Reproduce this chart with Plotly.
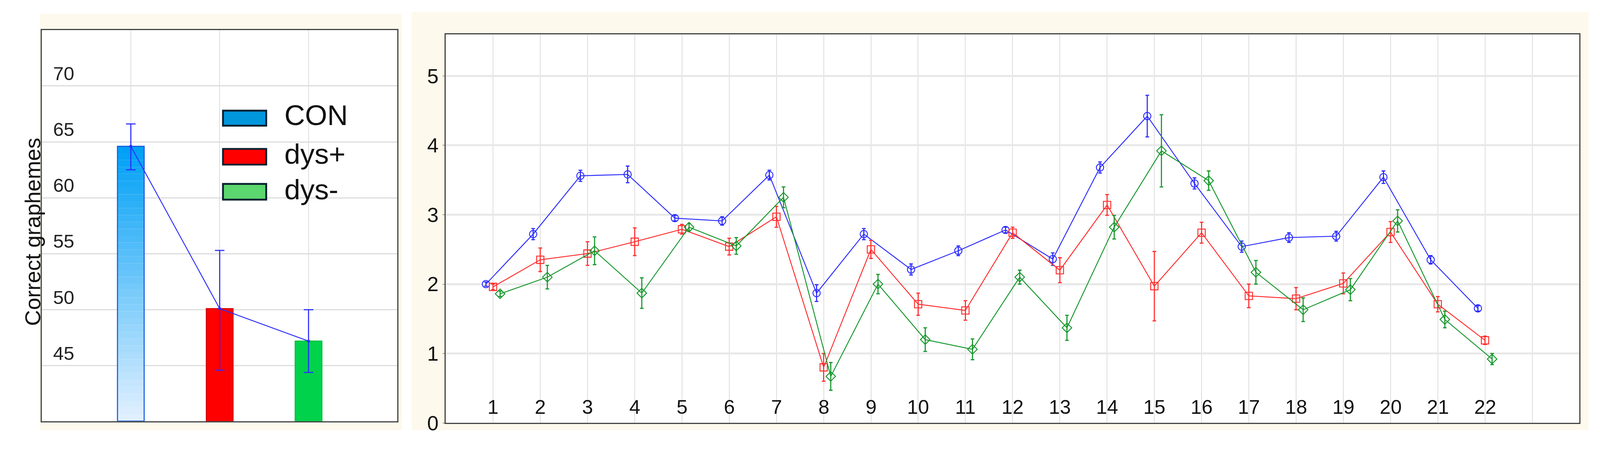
import plotly.graph_objects as go

# ---- data ----
groups = ['CON', 'dys+', 'dys-']
group_means = [64.6, 50.1, 47.2]
group_err_plus = [2.0, 5.2, 2.8]
group_err_minus = [2.1, 5.5, 2.8]

items = list(range(1, 23))
con_vals = [2.0, 2.72, 3.56, 3.58, 2.95, 2.91, 3.57, 1.87, 2.72, 2.21, 2.48,
            2.78, 2.36, 3.68, 4.42, 3.45, 2.54, 2.67, 2.69, 3.54, 2.35, 1.65]
con_err = [0.03, 0.08, 0.08, 0.12, 0.04, 0.06, 0.07, 0.12, 0.08, 0.08, 0.07,
           0.04, 0.09, 0.08, 0.3, 0.08, 0.08, 0.07, 0.07, 0.09, 0.06, 0.04]
dp_vals = [1.96, 2.35, 2.44, 2.61, 2.79, 2.54, 2.97, 0.8, 2.5, 1.71, 1.62,
           2.74, 2.2, 3.14, 1.97, 2.74, 1.83, 1.79, 2.01, 2.75, 1.71, 1.19]
dp_err = [0.04, 0.17, 0.17, 0.2, 0.07, 0.12, 0.15, 0.2, 0.13, 0.16, 0.14,
          0.08, 0.18, 0.15, 0.5, 0.15, 0.17, 0.16, 0.15, 0.15, 0.11, 0.06]
dm_vals = [1.86, 2.1, 2.48, 1.87, 2.82, 2.55, 3.25, 0.67, 2.0, 1.2, 1.06,
           2.1, 1.37, 2.82, 3.92, 3.49, 2.17, 1.63, 1.92, 2.91, 1.49, 0.92]
dm_err = [0.04, 0.17, 0.2, 0.22, 0.05, 0.12, 0.15, 0.2, 0.14, 0.17, 0.15,
          0.1, 0.18, 0.17, 0.52, 0.14, 0.17, 0.17, 0.16, 0.16, 0.12, 0.08]

left_ticks = [45, 50, 55, 60, 65, 70]
right_ticks = [0, 1, 2, 3, 4, 5]

# layout positions are in reference pixels; S compensates the page zoom seen in the photo
W, H = 4342, 1213
S = 0.938
FONT = 'Liberation Sans, Arial, sans-serif'
BLUE, RED, GREEN = '#2b2bff', '#ff2b2b', '#14962a'
bar_colors = ['#00a0f6', '#ff0000', '#00d24b']
legend_colors = ['#0096dc', '#ff0000', '#5cd66e']
y_left = [40.05, 75]
y_right = [0, 5.6]

def px(x):
    return x / W

def py(y):
    return 1 - y / H

fig = go.Figure()

# gradient CON bar built from stacked slices
n = 40
h = (group_means[0] - y_left[0]) / n
grad = []
for i in range(n):
    t = i / (n - 1)
    grad.append(f'rgb({int(225 - 225 * t)},{int(240 - 80 * t)},{int(255 - 9 * t)})')
fig.add_trace(go.Bar(x=[0] * n, y=[h] * n, base=[y_left[0] + i * h for i in range(n)],
                     width=0.3, marker=dict(color=grad, line=dict(width=0)),
                     xaxis='x', yaxis='y', showlegend=False))
fig.add_trace(go.Bar(x=[0, 1, 2], y=[m - y_left[0] for m in group_means], base=y_left[0],
                     width=0.3,
                     marker=dict(color=['rgba(0,0,0,0)', bar_colors[1], bar_colors[2]],
                                 line=dict(color=['#1a60e0', '#d00000', '#00c040'], width=3 * S)),
                     xaxis='x', yaxis='y', showlegend=False))
fig.add_trace(go.Scatter(x=[0, 1, 2], y=group_means, mode='lines+markers',
                         line=dict(color=BLUE, width=2.5 * S), marker=dict(size=8 * S, color=BLUE),
                         error_y=dict(type='data', array=group_err_plus, arrayminus=group_err_minus,
                                      color=BLUE, thickness=3 * S, width=13 * S),
                         xaxis='x', yaxis='y', showlegend=False))

# right panel lines
series = [(con_vals, con_err, BLUE, 'circle-open', -0.15),
          (dp_vals, dp_err, RED, 'square-open', 0.0),
          (dm_vals, dm_err, GREEN, 'diamond-open', 0.15)]
for vals, err, col, sym, off in series:
    fig.add_trace(go.Scatter(x=[i + off for i in items], y=vals, mode='lines+markers',
                             line=dict(color=col, width=2.5 * S),
                             marker=dict(symbol=sym, size=20 * S, color=col,
                                         line=dict(width=2.5 * S, color=col)),
                             error_y=dict(type='data', array=err, color=col, thickness=3 * S, width=5 * S),
                             xaxis='x2', yaxis='y2', showlegend=False))

ann = []
for i in items:
    ann.append(dict(x=i, y=0.23, xref='x2', yref='y2', text=str(i), showarrow=False,
                    font=dict(family=FONT, size=54 * S, color='#111')))
for t in left_ticks:
    ann.append(dict(x=px(134), y=t, xref='paper', yref='y', text=str(t), showarrow=False,
                    xanchor='left', yanchor='bottom', yshift=3,
                    font=dict(family=FONT, size=52 * S, color='#222')))
ann.append(dict(x=px(44), y=py(640), xref='paper', yref='paper', text='Correct graphemes',
                textangle=-90, showarrow=False, font=dict(family=FONT, size=60 * S, color='#111')))

shapes = [
    dict(type='rect', xref='paper', yref='paper', x0=px(100), x1=px(1088), y0=py(1195), y1=py(30),
         fillcolor='#fdf9ec', line=dict(width=0), layer='below'),
    dict(type='rect', xref='paper', yref='paper', x0=px(1115), x1=px(4327), y0=py(1195), y1=py(25),
         fillcolor='#fdf9ec', line=dict(width=0), layer='below'),
    dict(type='rect', xref='paper', yref='paper', x0=px(106), x1=px(1076), y0=py(1170), y1=py(75),
         fillcolor='white', line=dict(width=0), layer='below'),
    dict(type='rect', xref='paper', yref='paper', x0=px(1208), x1=px(4302), y0=py(1175), y1=py(87),
         fillcolor='white', line=dict(width=0), layer='below'),
]
leg_rows = [(301, 343, 314), (408, 452, 422), (506, 550, 522)]
for (t0, t1, tc), c, g in zip(leg_rows, legend_colors, groups):
    shapes.append(dict(type='rect', xref='paper', yref='paper', x0=px(600), x1=px(718),
                       y0=py(t1), y1=py(t0), fillcolor=c, line=dict(color='#0a2030', width=5 * S)))
    ann.append(dict(x=px(765), y=py(tc), xref='paper', yref='paper', text=g,
                    xanchor='left', yanchor='middle', showarrow=False,
                    font=dict(family=FONT, size=78 * S, color='#111')))

axis_common = dict(showline=True, linecolor='#444', linewidth=3 * S, mirror=True, zeroline=False)
fig.update_layout(
    width=round(W * S), height=round(H * S), margin=dict(l=0, r=0, t=0, b=0),
    paper_bgcolor='white', plot_bgcolor='white', barmode='overlay',
    xaxis=dict(domain=[px(106), px(1076)], range=[-1, 3], tickvals=[0, 1, 2],
               showticklabels=False, showgrid=True, gridcolor='#dddddd', gridwidth=2, **axis_common),
    yaxis=dict(domain=[py(1170), py(75)], range=y_left, tickvals=left_ticks,
               showticklabels=False, showgrid=True, gridcolor='#dddddd', gridwidth=3 * S, **axis_common),
    xaxis2=dict(domain=[px(1208), px(4302)], range=[0, 24], dtick=1, tick0=0,
                showticklabels=False, showgrid=True, gridcolor='#dddddd', gridwidth=2,
                anchor='y2', **axis_common),
    yaxis2=dict(domain=[py(1175), py(87)], range=y_right, tickvals=right_ticks,
                ticks='outside', ticklen=5, tickcolor='#444', showgrid=True, gridcolor='#e8e8e8',
                gridwidth=5 * S, anchor='x2', tickfont=dict(family=FONT, size=56 * S, color='#111'),
                **axis_common),
    yaxis3=dict(overlaying='y2', side='right', anchor='x2', range=y_right,
                tickvals=[0.5 * k for k in range(12)],
                ticks='inside', ticklen=8, tickcolor='#444', showticklabels=False, showgrid=False),
    annotations=ann, shapes=shapes,
)

fig.write_html("out.html")
